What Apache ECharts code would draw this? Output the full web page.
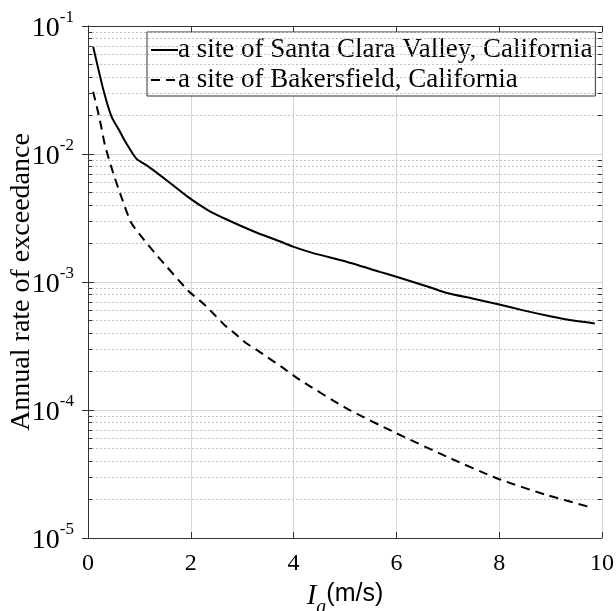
<!DOCTYPE html>
<html>
<head>
<meta charset="utf-8">
<script src="https://cdn.jsdelivr.net/npm/echarts@6/dist/echarts.min.js"></script>
<style>html,body{margin:0;padding:0;background:#fff;}#c{width:616px;height:611px;}</style>
</head>
<body>
<div id="c"></div>
<script>
// Data
const santaClaraX = [0.1, 0.3, 0.46, 0.62, 0.71, 0.94, 1.17, 1.56, 1.95, 2.33, 2.72, 3.24, 3.74, 3.99, 4.38, 5.03, 5.68, 6.0, 6.65, 6.98, 7.5, 7.98, 8.47, 8.99, 9.44, 9.86];
const santaClaraY = [0.069, 0.0316, 0.0195, 0.0150, 0.0128, 0.0092, 0.0080, 0.0061, 0.0046, 0.00365, 0.00305, 0.00247, 0.00207, 0.00189, 0.00168, 0.00144, 0.00120, 0.00110, 0.00091, 0.00082, 0.00074, 0.00067, 0.00060, 0.00054, 0.00050, 0.000475];
const bakersfieldX = [0.1, 0.23, 0.33, 0.49, 0.65, 0.84, 1.04, 1.36, 1.95, 2.24, 2.47, 2.66, 2.85, 3.08, 3.31, 3.5, 3.76, 4.13, 5.03, 6.0, 6.98, 7.95, 8.92, 9.8];
const bakersfieldY = [0.0307, 0.0185, 0.0117, 0.0071, 0.0046, 0.0029, 0.00226, 0.00158, 0.000855, 0.00068, 0.00055, 0.00046, 0.000398, 0.000332, 0.00029, 0.000257, 0.000218, 0.000171, 0.000103, 0.0000658, 0.0000432, 0.0000293, 0.0000217, 0.0000173];
const seriesNames = ['a site of Santa Clara Valley, California', 'a site of Bakersfield, California'];
const xTicks = [0, 2, 4, 6, 8, 10];
const yDecades = [1e-5, 1e-4, 1e-3, 1e-2, 1e-1];
const minorMultipliers = [2, 3, 4, 5, 6, 7, 8, 9];

const minorValues = [];
for (let d = 0; d < yDecades.length - 1; d++) {
  minorMultipliers.forEach(m => minorValues.push(yDecades[d] * m));
}
const minorGrid = minorValues.map(v => ({ yAxis: v }));
const minorTicksLeft = minorValues.map(v => [{ coord: [xTicks[0], v] }, { coord: [xTicks[0] + 0.08, v] }]);
const minorTicksRight = minorValues.map(v => [{ coord: [xTicks[xTicks.length - 1] - 0.08, v] }, { coord: [xTicks[xTicks.length - 1], v] }]);

const serif = 'Liberation Serif';
const axisLineStyle = { color: '#333', width: 1 };

const chart = echarts.init(document.getElementById('c'), null, { renderer: 'canvas' });
chart.setOption({
  animation: false,
  backgroundColor: '#fff',
  grid: { left: 88, right: 14, top: 26, bottom: 73, containLabel: false, outerBoundsMode: 'none' },
  legend: {
    left: 147, top: 32, orient: 'vertical',
    backgroundColor: '#fff', borderColor: '#333', borderWidth: 1, borderRadius: 0,
    padding: [3, 3, 1, 3], itemGap: 0, itemWidth: 27, itemHeight: 2,
    itemStyle: { opacity: 0 },
    textStyle: { fontFamily: serif, fontSize: 27, color: '#000', lineHeight: 30, padding: [0, 0, 0, -5] },
    data: seriesNames
  },
  xAxis: [{
    type: 'value', min: 0, max: 10, interval: 2,
    axisLine: { show: true, lineStyle: axisLineStyle },
    axisTick: { show: true, inside: true, length: 6, lineStyle: axisLineStyle },
    axisLabel: { fontFamily: serif, fontSize: 24, color: '#000', margin: 14 },
    splitLine: { show: true, lineStyle: { color: '#d6d6d6', width: 1 } },
    name: '{i|I}{a|a}{u|(m/s)}',
    nameLocation: 'middle', nameGap: 44, nameMoveOverlap: false,
    nameTextStyle: {
      rich: {
        i: { fontFamily: serif, fontStyle: 'italic', fontSize: 29, color: '#000', verticalAlign: 'top', lineHeight: 30 },
        a: { fontFamily: serif, fontStyle: 'italic', fontSize: 20, color: '#000', verticalAlign: 'top', lineHeight: 20, padding: [16, 0, 0, 0] },
        u: { fontFamily: 'Liberation Sans', fontSize: 25, color: '#000', verticalAlign: 'top', lineHeight: 30 }
      }
    }
  }, {
    type: 'value', min: 0, max: 10, interval: 2, position: 'top',
    axisLine: { show: true, lineStyle: axisLineStyle },
    axisTick: { show: true, inside: true, length: 6, lineStyle: axisLineStyle },
    axisLabel: { show: false }, splitLine: { show: false }
  }],
  yAxis: [{
    type: 'log', logBase: 10, min: yDecades[0], max: yDecades[yDecades.length - 1], splitNumber: 4,
    axisLine: { show: true, lineStyle: axisLineStyle },
    axisTick: { show: true, inside: true, length: 6, lineStyle: axisLineStyle },
    splitLine: { show: true, lineStyle: { color: '#d6d6d6', width: 1 } },
    axisLabel: {
      margin: 14,
      formatter: v => '{b|10}{s|' + Math.round(Math.log10(v)) + '}',
      rich: {
        b: { fontFamily: serif, fontSize: 28, color: '#000', verticalAlign: 'bottom', lineHeight: 34 },
        s: { fontFamily: serif, fontSize: 17, color: '#000', verticalAlign: 'top', lineHeight: 17 }
      }
    },
    name: 'Annual rate of exceedance', nameLocation: 'middle', nameGap: 52, nameMoveOverlap: false,
    nameTextStyle: { fontFamily: serif, fontSize: 28, color: '#000' }
  }, {
    type: 'log', logBase: 10, min: yDecades[0], max: yDecades[yDecades.length - 1], splitNumber: 4, position: 'right',
    axisLine: { show: true, lineStyle: axisLineStyle },
    axisTick: { show: true, inside: true, length: 6, lineStyle: axisLineStyle },
    axisLabel: { show: false }, splitLine: { show: false }
  }],
  series: [{
    name: seriesNames[0], type: 'line', xAxisIndex: 0, yAxisIndex: 0,
    data: santaClaraX.map((x, i) => [x, santaClaraY[i]]),
    showSymbol: false, symbol: 'none', smooth: 0.2,
    lineStyle: { color: '#000', width: 2, type: 'solid' },
    itemStyle: { color: '#000' },
    z: 5,
    markLine: {
      silent: true, symbol: 'none', animation: false, precision: 12,
      label: { show: false },
      lineStyle: { color: '#c4c4c4', width: 1, type: [2, 2] },
      emphasis: { disabled: true },
      data: minorGrid
    }
  }, {
    name: seriesNames[1], type: 'line', xAxisIndex: 0, yAxisIndex: 0,
    data: bakersfieldX.map((x, i) => [x, bakersfieldY[i]]),
    showSymbol: false, symbol: 'none', smooth: 0.2,
    lineStyle: { color: '#000', width: 2, type: [9, 6] },
    itemStyle: { color: '#000' },
    z: 5,
    markLine: {
      silent: true, symbol: 'none', animation: false, precision: 12,
      label: { show: false },
      lineStyle: { color: '#333', width: 1, type: 'solid' },
      emphasis: { disabled: true },
      data: minorTicksLeft.concat(minorTicksRight)
    }
  }]
});
</script>
</body>
</html>
